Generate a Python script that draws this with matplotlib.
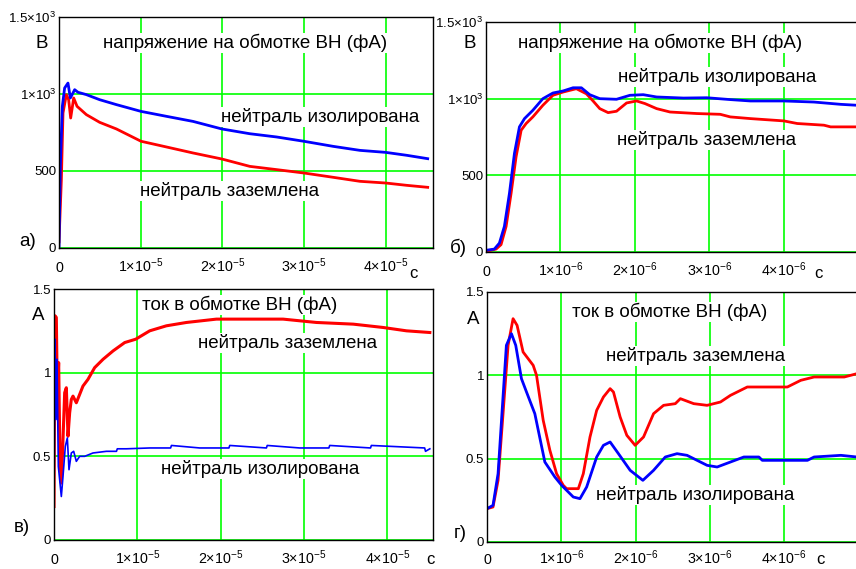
import numpy as np
import matplotlib as mpl
import matplotlib.pyplot as plt

mpl.rcParams["font.family"] = ["Liberation Sans", "DejaVu Sans"]
mpl.rcParams["mathtext.fontset"] = "custom"
mpl.rcParams["mathtext.rm"] = "Liberation Sans"
mpl.rcParams["mathtext.it"] = "Liberation Sans"
mpl.rcParams["mathtext.fallback"] = "stixsans"

W, H = 856, 569
GRID = "#00ff00"
RED = "#ff0000"
BLUE = "#0000ff"

# ---------------- data ----------------
# а) напряжение, длинный интервал (время в единицах 1e-5 с)
ta_iso = [0, 0.016, 0.041, 0.069, 0.11, 0.139, 0.192, 0.233, 0.335, 0.498, 0.703, 1.005,
          1.316, 1.642, 1.994, 2.337, 2.664, 2.999, 3.358, 3.685, 4.0, 4.257, 4.515]
va_iso = [0, 530, 920, 1039, 1071, 974, 1028, 1011, 996, 963, 931, 887,
          855, 822, 773, 742, 721, 693, 660, 634, 621, 602, 580]
ta_gnd = [0, 0.029, 0.049, 0.09, 0.118, 0.143, 0.18, 0.221, 0.335, 0.498, 0.703, 1.005,
          1.316, 1.642, 1.994, 2.337, 2.664, 2.999, 3.358, 3.685, 4.0, 4.257, 4.515]
va_gnd = [40, 444, 877, 996, 963, 844, 974, 920, 866, 816, 773, 693,
          656, 617, 578, 530, 509, 487, 459, 433, 422, 407, 394]

# б) напряжение, короткий интервал (время в единицах 1e-6 с)
tb_iso = [0, 0.112, 0.18, 0.247, 0.315, 0.382, 0.449, 0.517, 0.629, 0.764, 0.899, 1.034,
          1.169, 1.281, 1.393, 1.528, 1.753, 1.933, 2.112, 2.292, 2.652, 2.966, 3.281,
          3.551, 4.0, 4.404, 4.764, 4.98]
vb_iso = [11, 19, 58, 167, 383, 643, 816, 870, 924, 1000, 1037, 1050,
          1071, 1071, 1026, 1000, 996, 1022, 1026, 1011, 1004, 1006, 994,
          985, 985, 978, 963, 957]
tb_gnd = [0, 0.135, 0.202, 0.27, 0.337, 0.404, 0.472, 0.539, 0.629, 0.764, 0.899, 1.034,
          1.213, 1.348, 1.438, 1.528, 1.64, 1.753, 1.888, 2.022, 2.135, 2.292, 2.472,
          2.831, 3.146, 3.281, 3.551, 4.0, 4.18, 4.539, 4.629, 4.98]
vb_gnd = [4, 19, 48, 167, 383, 621, 794, 838, 881, 957, 1022, 1043,
          1065, 1032, 985, 935, 909, 918, 972, 985, 968, 935, 913,
          903, 898, 881, 870, 855, 838, 827, 816, 816]

# в) ток, длинный интервал (время в единицах 1e-5 с)
tc_gnd = [0, 0.012, 0.028, 0.04, 0.056, 0.072, 0.088, 0.108, 0.128, 0.148, 0.168, 0.188,
          0.208, 0.228, 0.268, 0.308, 0.348, 0.408, 0.488, 0.589, 0.709, 0.849, 0.981,
          1.149, 1.349, 1.59, 1.95, 2.35, 2.75, 3.151, 3.592, 3.952, 4.232, 4.512]
ic_gnd = [0.20, 1.34, 1.33, 0.86, 1.06, 0.48, 0.34, 0.60, 0.88, 0.91, 0.62, 0.76,
          0.84, 0.86, 0.82, 0.87, 0.92, 0.96, 1.03, 1.08, 1.13, 1.18, 1.20,
          1.25, 1.28, 1.30, 1.32, 1.32, 1.32, 1.30, 1.29, 1.27, 1.25, 1.24]
tc_iso = [0, 0.012, 0.024, 0.036, 0.052, 0.068, 0.088, 0.108, 0.136, 0.16, 0.18, 0.208,
          0.236, 0.268, 0.308, 0.368, 0.468, 0.629, 0.75, 0.76, 0.869, 1.149, 1.4, 1.41,
          1.75, 2.1, 2.11, 2.55, 2.56, 2.951, 3.3, 3.31, 3.8, 3.81, 4.45, 4.46, 4.512]
ic_iso = [0.20, 1.20, 0.72, 1.08, 0.44, 0.36, 0.26, 0.38, 0.56, 0.61, 0.42, 0.52,
          0.53, 0.47, 0.50, 0.50, 0.52, 0.53, 0.53, 0.545, 0.545, 0.55, 0.55, 0.565,
          0.55, 0.55, 0.565, 0.55, 0.565, 0.55, 0.55, 0.565, 0.55, 0.565, 0.55, 0.53, 0.545]

# г) ток, короткий интервал (время в единицах 1e-6 с)
td_gnd = [0, 0.081, 0.149, 0.216, 0.284, 0.351, 0.405, 0.486, 0.554, 0.622, 0.667, 0.757,
          0.847, 0.937, 1.027, 1.072, 1.23, 1.297, 1.387, 1.477, 1.568, 1.658, 1.703,
          1.793, 1.883, 1.995, 2.108, 2.243, 2.378, 2.536, 2.604, 2.784, 2.964, 3.144,
          3.279, 3.505, 4.045, 4.225, 4.405, 4.811, 4.982]
id_gnd = [0.20, 0.21, 0.37, 0.77, 1.18, 1.34, 1.30, 1.14, 1.10, 1.06, 1.00, 0.73,
          0.55, 0.41, 0.34, 0.32, 0.32, 0.41, 0.63, 0.79, 0.87, 0.92, 0.90,
          0.75, 0.64, 0.58, 0.63, 0.77, 0.82, 0.83, 0.86, 0.83, 0.82, 0.84,
          0.88, 0.93, 0.93, 0.97, 0.99, 0.99, 1.01]
td_iso = [0, 0.081, 0.149, 0.207, 0.261, 0.329, 0.387, 0.464, 0.532, 0.644, 0.779, 0.914,
          1.005, 1.162, 1.252, 1.342, 1.477, 1.568, 1.658, 1.77, 1.928, 2.099, 2.243,
          2.401, 2.559, 2.694, 2.829, 2.964, 3.099, 3.279, 3.459, 3.662, 3.707, 4.315,
          4.405, 4.766, 4.982]
id_iso = [0.20, 0.22, 0.41, 0.81, 1.18, 1.25, 1.18, 0.98, 0.90, 0.77, 0.48, 0.39,
          0.34, 0.27, 0.26, 0.33, 0.51, 0.58, 0.60, 0.53, 0.43, 0.37, 0.43,
          0.51, 0.53, 0.52, 0.49, 0.46, 0.45, 0.48, 0.51, 0.51, 0.49, 0.49,
          0.51, 0.52, 0.51]

# ticks
xt_long = [0, 1e-5, 2e-5, 3e-5, 4e-5]
xl_long = ["0", r"$1{\times}10^{-5}$", r"$2{\times}10^{-5}$", r"$3{\times}10^{-5}$", r"$4{\times}10^{-5}$"]
xt_short = [0, 1e-6, 2e-6, 3e-6, 4e-6]
xl_short = ["0", r"$1{\times}10^{-6}$", r"$2{\times}10^{-6}$", r"$3{\times}10^{-6}$", r"$4{\times}10^{-6}$"]
yt_volt = [0, 500, 1000, 1500]
yl_volt = ["0", "500", r"$1{\times}10^{3}$", r"$1.5{\times}10^{3}$"]
yt_amp = [0, 0.5, 1.0, 1.5]
yl_amp = ["0", "0.5", "1", "1.5"]

TITLE_U = "напряжение на обмотке ВН (фА)"
TITLE_I = "ток в обмотке ВН (фА)"
ISO = "нейтраль изолирована"
GND = "нейтраль заземлена"


def px_axes(fig, l, t, r, b):
    return fig.add_axes([l / W, 1 - b / H, (r - l) / W, (b - t) / H])


def ftext(fig, x, y, s, size=13.5, bg=True):
    kw = dict(ha="center", va="center", fontsize=size, zorder=5)
    if bg:
        kw["bbox"] = dict(facecolor="white", edgecolor="none", pad=0.5)
    fig.text(x / W, 1 - y / H, s, **kw)


def style(ax, xt, xl, yt, yl, xlim, ylim, xpad):
    ax.set_xlim(*xlim)
    ax.set_ylim(*ylim)
    ax.set_xticks(xt, xl, va="baseline", fontsize=10.3)
    ax.set_yticks(yt, yl, fontsize=9.5)
    ax.tick_params(axis="both", length=0)
    ax.tick_params(axis="x", pad=xpad)
    ax.tick_params(axis="y", pad=2)
    ax.grid(True, color=GRID, lw=1.2)
    ax.set_axisbelow(True)
    for sp in ax.spines.values():
        sp.set_color("black")
        sp.set_linewidth(1.0)


fig = plt.figure(figsize=(W / 100, H / 100), dpi=100)

# а)
ax = px_axes(fig, 59, 17, 433, 248)
ax.plot(np.array(ta_gnd) * 1e-5, va_gnd, color=RED, lw=2)
ax.plot(np.array(ta_iso) * 1e-5, va_iso, color=BLUE, lw=2)
style(ax, xt_long, xl_long, yt_volt, yl_volt, (0, 4.58e-5), (0, 1500), 17)
ftext(fig, 42, 43, "В")
ftext(fig, 245, 43, TITLE_U)
ftext(fig, 320, 117, ISO)
ftext(fig, 230, 191, GND)
ftext(fig, 28, 242, "а)", bg=False)
ftext(fig, 413, 273, "с", size=12, bg=False)

# б)
ax = px_axes(fig, 486, 22, 862, 252)
ax.plot(np.array(tb_gnd) * 1e-6, vb_gnd, color=RED, lw=2)
ax.plot(np.array(tb_iso) * 1e-6, vb_iso, color=BLUE, lw=2)
style(ax, xt_short, xl_short, yt_volt, yl_volt, (0, 5.05e-6), (0, 1500), 17)
ftext(fig, 470, 43, "В")
ftext(fig, 660, 43, TITLE_U)
ftext(fig, 717, 77, ISO)
ftext(fig, 707, 140, GND)
ftext(fig, 458, 248, "б)", bg=False)
ftext(fig, 818, 273, "с", size=12, bg=False)

# в)
ax = px_axes(fig, 54, 289, 433, 540)
ax.plot(np.array(tc_gnd) * 1e-5, ic_gnd, color=RED, lw=2.2)
ax.plot(np.array(tc_iso) * 1e-5, ic_iso, color=BLUE, lw=1.2)
style(ax, xt_long, xl_long, yt_amp, yl_amp, (0, 4.55e-5), (0, 1.5), 17)
ftext(fig, 38, 315, "А")
ftext(fig, 240, 305, TITLE_I)
ftext(fig, 288, 343, GND)
ftext(fig, 260, 469, ISO)
ftext(fig, 22, 528, "в)", bg=False)
ftext(fig, 430, 560, "с", size=12, bg=False)

# г)
ax = px_axes(fig, 487, 292, 862, 542)
ax.plot(np.array(td_gnd) * 1e-6, id_gnd, color=RED, lw=2)
ax.plot(np.array(td_iso) * 1e-6, id_iso, color=BLUE, lw=2)
style(ax, xt_short, xl_short, yt_amp, yl_amp, (0, 5.05e-6), (0, 1.5), 16)
ftext(fig, 473, 320, "А")
ftext(fig, 670, 312, TITLE_I)
ftext(fig, 696, 356, GND)
ftext(fig, 695, 495, ISO)
ftext(fig, 460, 533, "г)", bg=False)
ftext(fig, 820, 560, "с", size=12, bg=False)

fig.savefig("out.png", dpi=100)
